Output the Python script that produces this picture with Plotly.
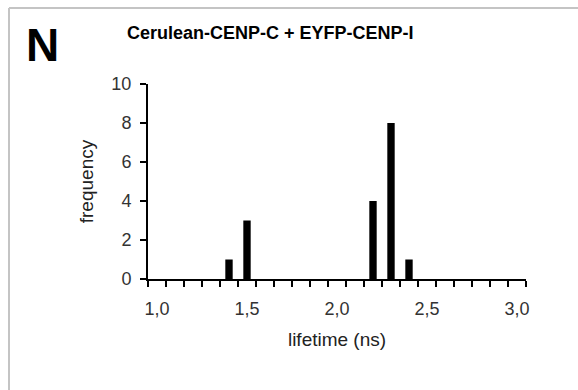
import plotly.graph_objects as go

lifetime = [1.4, 1.5, 2.2, 2.3, 2.4]
frequency = [1, 3, 4, 8, 1]
x_ticks = [1.0, 1.5, 2.0, 2.5, 3.0]
y_ticks = [0, 2, 4, 6, 8, 10]

W, H = 578, 390
L, R, T, B = 148, 52, 84, 111
pw, ph = W - L - R, H - T - B

def px(xp):
    return (xp - L) / pw

def py(yp):
    return (H - B - yp) / ph

fig = go.Figure(go.Bar(x=lifetime, y=frequency, width=0.041,
                       marker=dict(color="black", line=dict(width=0))))

font = "Liberation Sans, Arial, sans-serif"
fig.update_layout(
    width=W, height=H,
    margin=dict(l=L, r=R, t=T, b=B),
    paper_bgcolor="white", plot_bgcolor="white",
    separators=",.",
    showlegend=False,
    font=dict(family=font, color="#222", size=18),
    xaxis=dict(range=[0.95, 3.05], tickvals=x_ticks, tickformat=".1f",
               ticks="", showgrid=False, zeroline=False,
               showline=True, linecolor="black", linewidth=2,
               tickfont=dict(size=18, color="#333"), ticklabelstandoff=12,
               minor=dict(ticks="outside", tick0=0.95, dtick=0.1, ticklen=6,
                          tickwidth=2, tickcolor="black", showgrid=False),
               title=dict(text="lifetime (ns)", font=dict(size=19, color="#222"), standoff=15)),
    yaxis=dict(range=[0, 10], tickvals=y_ticks, ticks="outside", ticklen=6,
               tickwidth=2, tickcolor="black", showgrid=False, zeroline=False,
               showline=True, linecolor="black", linewidth=2,
               tickfont=dict(size=18, color="#333"), ticklabelstandoff=5,
               title=dict(text="frequency", font=dict(size=19, color="#222"), standoff=13)),
    annotations=[
        dict(text="<b>Cerulean-CENP-C + EYFP-CENP-I</b>", x=px(270), y=py(33),
             xref="paper", yref="paper", xanchor="center", yanchor="middle",
             showarrow=False, font=dict(size=18, color="black", family=font)),
        dict(text="<b>N</b>", x=px(42.5), y=py(45),
             xref="paper", yref="paper", xanchor="center", yanchor="middle",
             showarrow=False, font=dict(size=46, color="black", family=font)),
    ],
    shapes=[
        dict(type="line", xref="paper", yref="paper", x0=px(9), x1=px(600),
             y0=py(8), y1=py(8), line=dict(color="#c4c4c4", width=2)),
        dict(type="line", xref="paper", yref="paper", x0=px(9), x1=px(9),
             y0=py(8), y1=py(400), line=dict(color="#c4c4c4", width=2)),
    ],
)

fig.write_html("out.html")
